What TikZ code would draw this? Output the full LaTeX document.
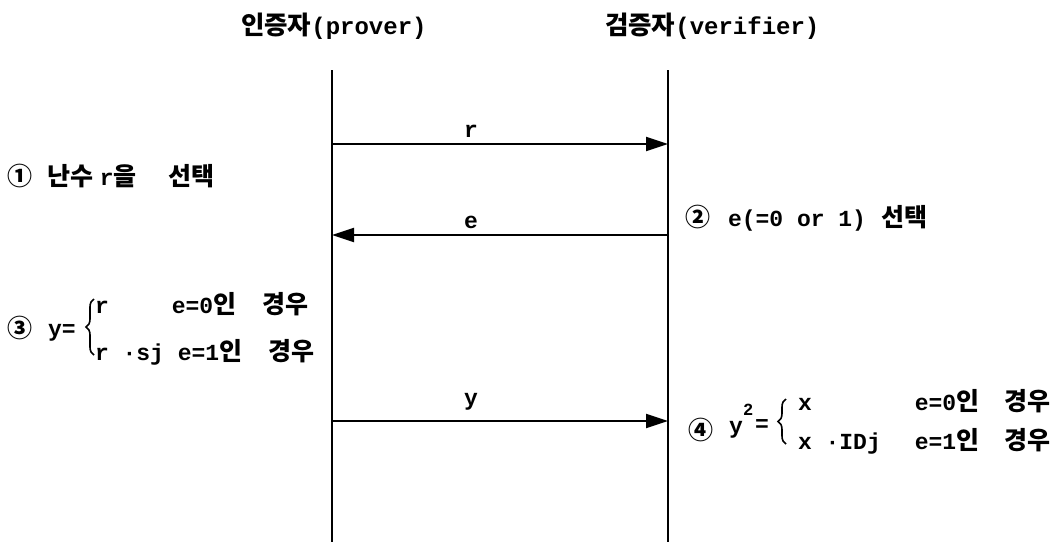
\documentclass[tikz,border=0pt]{standalone}
\usepackage{fontspec}
\setmainfont{Liberation Mono}
\newfontfamily\kr{Noto Sans CJK KR}
\usetikzlibrary{arrows.meta,decorations.pathreplacing}
\newcommand\K[1]{{\kr\bfseries\fontsize{25}{27}\selectfont #1}}
\newcommand\KH[1]{{\kr\bfseries\fontsize{25.5}{27}\selectfont #1}}
\newcommand\gap[1]{\hspace*{#1pt}}
\begin{document}
\begin{tikzpicture}[x=1pt,y=-1pt,
  every node/.style={inner sep=0pt,outer sep=0pt,font=\bfseries\fontsize{23}{26}\selectfont},
  txt/.style={anchor=base west},
  lbl/.style={anchor=base},
  life/.style={line width=2pt},
  msg/.style={line width=2pt,-{Triangle[length=22pt,width=14pt]}},
  brc/.style={line width=1.6pt,decorate,decoration={brace,amplitude=8pt}}]
\useasboundingbox[fill=white] (0,0) rectangle (1060,542);
% headers
\node[txt,font=\bfseries\fontsize{24}{27}\selectfont] (hp) at (241,34) {\KH{인증자}(prover)};
\node[txt,font=\bfseries\fontsize{24}{27}\selectfont] (hv) at (605,34) {\KH{검증자}(verifier)};
% lifelines
\coordinate (pt) at (332,70);
\coordinate (pb) at (332,542);
\coordinate (vt) at (668,70);
\coordinate (vb) at (668,542);
\draw[life] (pt) -- (pb);
\draw[life] (vt) -- (vb);
% messages
\coordinate (p1) at (332,144); \coordinate (v1) at (668,144);
\coordinate (p2) at (332,235); \coordinate (v2) at (668,235);
\coordinate (p3) at (332,421); \coordinate (v3) at (668,421);
\draw[msg] (p1) -- (v1);
\draw[msg] (v2) -- (p2);
\draw[msg] (p3) -- (v3);
\node[lbl] (lr) at (471,137) {r};
\node[lbl] (le) at (471,228) {e};
\node[lbl] (ly) at (471,405) {y};
% step 1
\node[txt] (s1) at (8,185) {\K{①}\gap{15}\K{난수}\gap{6}r\K{을}\gap{32}\K{선택}};
% step 2
\node[txt] (s2) at (685,226) {\K{②}\gap{18}e(=0 or 1)\gap{15}\K{선택}};
% step 3
\node[txt] (s3) at (8,337) {\K{③}};
\node[txt] (s3y) at (48,336) {y=};
\coordinate (b3a) at (94,355);
\coordinate (b3b) at (94,299);
\draw[brc] (b3a) -- (b3b);
\node[txt] (s3a) at (95,313) {r\gap{63}e=0\K{인}\gap{26}\K{경우}};
\node[txt] (s3b) at (95,360) {r ·sj e=1\K{인}\gap{26}\K{경우}};
% step 4
\node[txt] (s4) at (688,439) {\K{④}};
\node[txt] (s4y) at (729,433) {y};
\node[txt,font=\bfseries\fontsize{17}{18}\selectfont] (s4s) at (743,415) {2};
\node[txt] (s4e) at (755,431) {=};
\coordinate (b4a) at (786,444);
\coordinate (b4b) at (786,399);
\draw[brc] (b4a) -- (b4b);
\node[txt] (s4a) at (798,410) {x\gap{103}e=0\K{인}\gap{25}\K{경우}};
\node[txt] (s4b) at (798,449) {x ·IDj\gap{34}e=1\K{인}\gap{25}\K{경우}};
\end{tikzpicture}
\end{document}
